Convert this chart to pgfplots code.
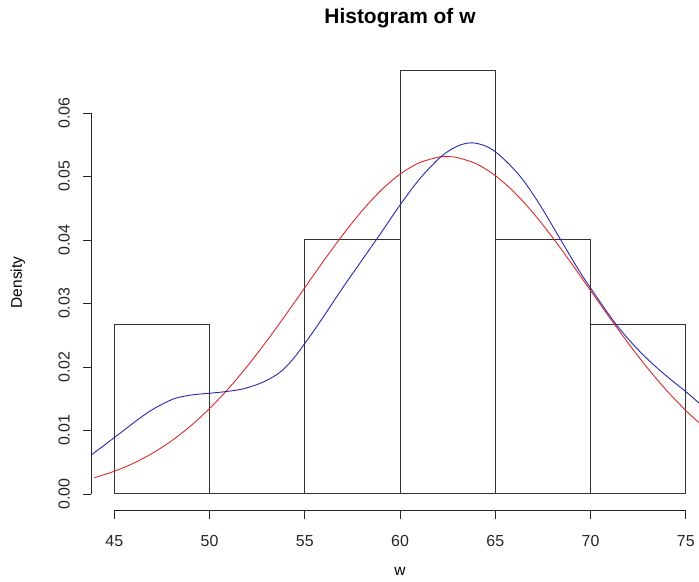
\documentclass[border=0pt]{standalone}
\usepackage{pgfplots}
\pgfplotsset{compat=1.18}
\usepackage{fontspec}
\setmainfont{Liberation Sans}
\definecolor{rred}{RGB}{215,40,40}
\definecolor{rblue}{RGB}{40,40,175}
\begin{document}
\begin{tikzpicture}
\begin{axis}[
  anchor=south west, at={(91.4bp,-510.9bp)},
  scale only axis, width=607.5bp, height=457bp,
  xmin=43.8, xmax=75.69, ymin=-0.00267, ymax=0.0693,
  axis x line*=bottom, axis y line*=left,
  axis line style={draw=none},
  xtick={45,50,55,60,65,70,75},
  ytick={0,0.01,0.02,0.03,0.04,0.05,0.06},
  scaled y ticks=false,
  yticklabel style={/pgf/number format/fixed, /pgf/number format/fixed zerofill, /pgf/number format/precision=2, rotate=90, anchor=south},
  xticklabel shift=13bp, yticklabel shift=10bp,
  /pgf/number format/assume math mode=true,
  tick label style={font=\fontsize{16}{19}\selectfont, text=black!85},
  tick align=outside, major tick length=8bp,
  tick style={black!85, line width=0.9bp},
  clip=true,
]
\addplot[ybar interval, draw=black!80, line width=1bp, fill=none] coordinates {
  (45,0.026667) (50,0) (55,0.04) (60,0.066667) (65,0.04) (70,0.026667) (75,0)
};
\addplot[rred, line width=0.9bp, smooth] coordinates {
  (43.95,0.00256) (45,0.003571) (46,0.004824) (47,0.006401) (48,0.008345)
  (49,0.010686) (50,0.013443) (51,0.016614) (52,0.020175) (53,0.024068)
  (54,0.028207) (55,0.032478) (56,0.036737) (57,0.040823) (58,0.044570)
  (59,0.047802) (60,0.050368) (61,0.052139) (62,0.053025) (62.45,0.05312)
  (63,0.052978) (64,0.052001) (65,0.050145) (66,0.047505) (67,0.044213)
  (68,0.040424) (69,0.036317) (70,0.032048) (71,0.027786) (72,0.023667)
  (73,0.019803) (74,0.016280) (75,0.013150) (75.7,0.01121)
};
\addplot[rblue, line width=0.9bp, smooth, tension=0.55] coordinates {
  (43.73,0.0060) (45,0.00887) (46.26,0.01176) (46.9,0.0131) (47.5,0.0141) (48.19,0.01505)
  (49.06,0.01559) (50,0.01586) (50.82,0.01611) (51.69,0.01650) (52.56,0.01730)
  (53.2,0.0182) (53.8,0.0194) (54.4,0.0213) (55,0.0237) (55.5,0.0258) (56,0.0280)
  (57,0.0325) (58,0.0368) (59,0.0411) (60,0.0455) (61,0.0495)
  (62,0.0527) (62.6,0.0541) (63.2,0.0550) (63.76,0.0553) (64.4,0.0549)
  (65,0.0539) (65.77,0.0518) (66.47,0.0494) (67.35,0.0455) (68.40,0.0402)
  (69.27,0.0358) (70.01,0.0324) (71.37,0.0266) (72.6,0.0224) (73.82,0.0190)
  (75.05,0.0160) (75.7,0.0143)
};
\coordinate (xa) at (axis cs:45,-0.00267);
\coordinate (xb) at (axis cs:75,-0.00267);
\coordinate (ya) at (axis cs:43.8,0);
\coordinate (yb) at (axis cs:43.8,0.06);
\end{axis}
\draw[black!85, line width=0.9bp] (xa) -- (xb);
\draw[black!85, line width=0.9bp] (ya) -- (yb);
\node at (400bp,-18bp) {\fontsize{21}{25}\selectfont\bfseries Histogram of w};
\node[rotate=90] at (18bp,-282.5bp) {\fontsize{15.5}{18}\selectfont Density};
\node at (400bp,-571bp) {\fontsize{15.5}{18}\selectfont w};
\pgfresetboundingbox
\path[use as bounding box] (0,0) rectangle (699bp,-582bp);
\end{tikzpicture}
\end{document}
